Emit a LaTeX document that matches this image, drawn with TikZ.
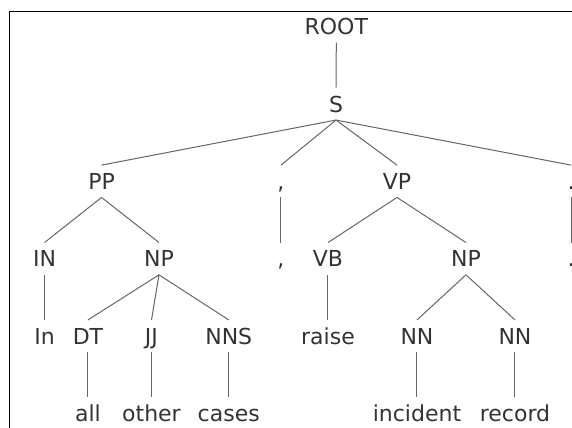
\documentclass[tikz,border=0pt]{standalone}
\usepackage{fontspec}
\setmainfont{DejaVu Sans}
\begin{document}
\begin{tikzpicture}[
    font=\fontsize{11}{13}\selectfont,
    tag/.style={anchor=base, inner xsep=0pt, inner ysep=3.75pt,
      text height=8.25pt, text depth=0pt, text=black!80},
    link/.style={draw=black!60, line width=0.5pt},
    frame/.style={draw=black, line width=0.6pt},
  ]

  % Page window: only the top-left corner of the frame shows.
  \clip (0,0) rectangle (10.052,7.521);
  \draw[frame] (0.167,-1) -- (0.167,7.319) -- (11,7.319);

  % Phrase levels.
  \node[tag] (root) at (5.91,6.91) {ROOT};
  \node[tag] (s) at (5.905,5.55) {S};

  \node[tag] (pp) at (1.784,4.19) {PP};
  \node[tag] (comma) at (4.938,4.19) {,};
  \node[tag] (vp) at (6.977,4.19) {VP};
  \node[tag] (period) at (10.036,4.19) {.};

  \node[tag] (in) at (0.783,2.83) {IN};
  \node[tag] (np) at (2.794,2.83) {NP};
  \node[tag] (commaw) at (4.938,2.83) {,};
  \node[tag] (vb) at (5.764,2.83) {VB};
  \node[tag] (npobj) at (8.189,2.83) {NP};
  \node[tag] (periodw) at (10.036,2.83) {.};

  % Part-of-speech tags and the words right below them.
  \node[tag] (inw) at (0.783,1.47) {In};
  \node[tag] (dt) at (1.546,1.47) {DT};
  \node[tag] (jj) at (2.662,1.47) {JJ};
  \node[tag] (nns) at (4.02,1.47) {NNS};
  \node[tag] (raise) at (5.764,1.47) {raise};
  \node[tag] (nn) at (7.328,1.47) {NN};
  \node[tag] (nnb) at (9.05,1.47) {NN};

  \node[tag] (all) at (1.546,0.11) {all};
  \node[tag] (other) at (2.662,0.11) {other};
  \node[tag] (cases) at (4.02,0.11) {cases};
  \node[tag] (incident) at (7.328,0.11) {incident};
  \node[tag] (record) at (9.05,0.11) {record};

  % Branches.
  \draw[link] (root.south) -- (s.north);
  \draw[link] (s.south) -- (pp.north);
  \draw[link] (s.south) -- (comma.north);
  \draw[link] (s.south) -- (vp.north);
  \draw[link] (s.south) -- (period.north);

  \draw[link] (pp.south) -- (in.north);
  \draw[link] (pp.south) -- (np.north);
  \draw[link] (comma.south) -- (commaw.north);
  \draw[link] (vp.south) -- (vb.north);
  \draw[link] (vp.south) -- (npobj.north);
  \draw[link] (period.south) -- (periodw.north);

  \draw[link] (in.south) -- (inw.north);
  \draw[link] (np.south) -- (dt.north);
  \draw[link] (np.south) -- (jj.north);
  \draw[link] (np.south) -- (nns.north);
  \draw[link] (vb.south) -- (raise.north);
  \draw[link] (npobj.south) -- (nn.north);
  \draw[link] (npobj.south) -- (nnb.north);

  \draw[link] (dt.south) -- (all.north);
  \draw[link] (jj.south) -- (other.north);
  \draw[link] (nns.south) -- (cases.north);
  \draw[link] (nn.south) -- (incident.north);
  \draw[link] (nnb.south) -- (record.north);
\end{tikzpicture}
\end{document}
